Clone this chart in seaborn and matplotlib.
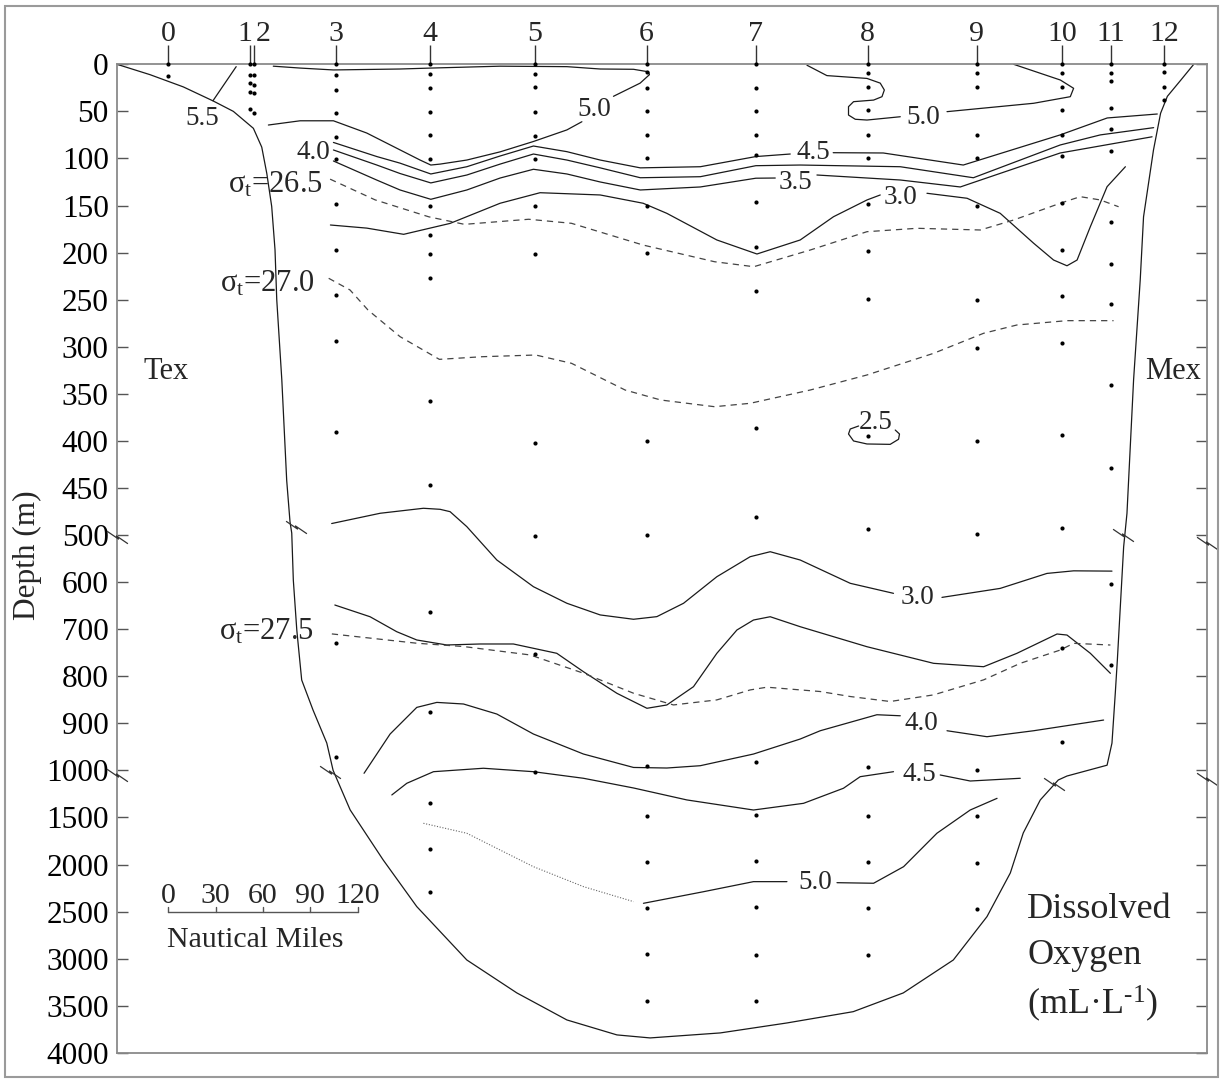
import numpy as np
import pandas as pd
import matplotlib
matplotlib.use("Agg")
import matplotlib.pyplot as plt
import seaborn as sns
from matplotlib.patches import Rectangle

nan = np.nan

# station positions along the section (nautical miles from station 0)
station_ids = ["0", "1", "2", "3", "4", "5", "6", "7", "8", "9", "10", "11", "12"]
station_nm = [0, 52, 54.5, 106, 166, 232, 303, 372, 443, 512, 566, 597, 631]

# sample depths (m) at each station
st0_d = [0, 12]
st1_d = [0, 11, 20, 29, 47]
st2_d = [0, 11, 22, 31, 52]
st3_d = [0, 11, 27, 52, 77, 101, 148, 197, 245, 294, 391, 729, 971]
st4_d = [0, 10, 25, 51, 75, 101, 151, 181, 202, 227, 358, 447, 664, 877, 1344, 1830, 2295]
st5_d = [0, 10, 24, 51, 76, 101, 151, 201, 402, 503, 752, 1015]
st6_d = [0, 8, 25, 50, 75, 100, 150, 200, 400, 500, 990, 1480, 1975, 2465, 2950, 3450]
st7_d = [0, 25, 50, 75, 96, 146, 194, 241, 386, 481, 982, 1475, 1965, 2454, 2963, 3450]
st8_d = [0, 9, 24, 49, 75, 100, 148, 198, 249, 395, 494, 992, 1484, 1971, 2459, 2963]
st9_d = [0, 9, 24, 75, 99, 150, 250, 301, 400, 499, 1000, 1484, 1987, 2476]
st10_d = [0, 9, 24, 49, 75, 97, 147, 197, 246, 296, 394, 493, 741, 939]
st11_d = [0, 9, 18, 46, 69, 92, 168, 212, 255, 341, 429, 604, 776]
st12_d = [0, 8, 24, 38]

# bottom topography
topo_x = [-32.5, -11.6, 9.5, 28.5, 41.2, 53.9, 59.2, 62.4, 65.5, 67.6, 68.7, 71.9, 75.0, 77.1,
          78.2, 79.2, 81.4, 84.5, 91.7, 100.4, 104.4, 115.2, 136.1, 157.4, 189.1, 220.8, 252.5,
          284.2, 305.2, 349.6, 391.9, 433.9, 465.6, 497.3, 518.6, 533.4, 541.6, 552.4, 563.8,
          569.3, 594.7, 597.8, 599.9, 601.2, 605.2, 607.3, 611.5, 615.7, 617.8, 624.1, 628.6,
          632.9, 641.3, 649.6]
topo_d = [0, 11, 24, 39, 50, 68, 88, 116, 151, 197, 250, 335, 442, 486,
          498, 596, 702, 808, 872, 942, 1000, 1420, 1951, 2447, 3014, 3364, 3651,
          3810, 3842, 3789, 3683, 3563, 3364, 3014, 2554, 2090, 1665, 1314, 1102,
          1060, 989, 942, 836, 766, 525, 477, 335, 229, 162, 91, 52,
          34, 17, 0]

# dissolved oxygen isolines (mL/L); nan marks a gap for a label
o55_x = [43.0, 28.3]
o55_d = [2.5, 38.7]

o50_top_x = [66.5, 83.5, 104.6, 146.8, 166.3, 210.2, 252.5, 273.6, 294.7, 304.2, 304.8, 298.9, 282.0,
             nan, 262.0, 252.5, 231.3, 210.2, 189.1, 172.2, 166.3, 159.5, 125.7, 104.6, 83.5, 63.4]
o50_top_d = [2, 4, 6, 5, 4, 2, 2.5, 5, 5.3, 8, 11, 20, 34,
             nan, 61, 69.7, 82, 93, 101.7, 106, 107, 101.7, 73, 60, 60, 64.5]

o50_right_x = [404.6, 417.2, 442.6, 451.0, 453.6, 452.1, 446.8, 434.1, 430.9, 430.9, 435.2, 442.6, 463.7,
               nan, 493.3, 548.2, 571.4, 573.5, 565.1, 535.5]
o50_right_d = [1, 12, 15, 20, 27.3, 34.4, 38, 39.7, 45, 53.9, 58.4, 59.2, 55.7,
               nan, 50.3, 41.4, 34.4, 25.5, 16.7, 0]

o45_x = [104.6, 132.1, 146.8, 166.3, 189.1, 210.2, 231.3, 252.5, 273.6, 299.0, 337.0, 372.2, 394.0,
         nan, 421.2, 452.9, 503.6, 565.0, 594.8, 626.5]
o45_d = [83, 98, 105, 116.5, 108.8, 97.4, 86.8, 92.8, 101.7, 110, 108.8, 98, 95.3,
         nan, 93.9, 94.2, 107, 75, 57, 52.8]

o40_x = [104.6, 132.1, 146.8, 166.3, 189.1, 210.2, 231.3, 252.5, 273.6, 299.0, 337.0, 372.2, 400.3,
         463.7, 510.0, 565.0, 590.4, 624.2]
o40_d = [91, 107, 116, 126, 117.6, 106, 95.3, 101.7, 110, 120.5, 119.4, 107.7, 107,
         108.8, 120.5, 85.7, 75, 67.3]

o35_x = [104.6, 132.1, 146.8, 166.3, 189.1, 210.2, 231.3, 252.5, 273.6, 299.0, 337.0, 372.2, 384.5,
         nan, 410.9, 463.7, 501.7, 565.0, 623.2]
o35_d = [102.7, 123, 133.5, 143.4, 133.5, 120.8, 111.5, 116.5, 125, 133.5, 130.3, 121, 120.8,
         nan, 117.6, 122.9, 130.3, 94.2, 77]

o30_top_x = [102.7, 125.7, 149.1, 178.5, 210.2, 235.5, 273.6, 300.8, 315.8, 347.5, 372.9, 400.3, 421.4,
             442.6, 451.0, nan, 480.6, 506.0, 527.0, 548.2, 560.8, 569.3, 575.7, 584.1, 594.7, 606.3]
o30_top_d = [170.7, 174, 180.6, 169, 147.6, 136.4, 138.8, 147.6, 158.3, 186.6, 201.5, 186.6, 161.9,
             144.1, 138.8, nan, 137, 142.3, 158.3, 190.1, 207.9, 214, 207.9, 172.5, 130, 108.8]

o25_x = [437.3, 432.0, 430.9, 434.1, 442.6, 457.3, 462.6, 463.2, 460.5]
o25_d = [384.2, 387.4, 392.7, 400.1, 403.3, 403.7, 398.3, 392.7, 388.5]

o30_deep_x = [103.5, 134.2, 161.6, 172.2, 178.5, 189.1, 208.1, 231.3, 252.5, 273.6, 294.7, 309.5, 326.4,
              347.5, 368.6, 381.3, 400.3, 432.0, 459.4, nan, 490.1, 527.0, 556.6, 573.5, 597.8]
o30_deep_d = [487.8, 476.9, 471.6, 472.7, 475.2, 491.1, 553, 609.8, 645, 669.8, 679, 673.4, 645,
              588.6, 546.1, 535.5, 553.1, 602.6, 623.9, nan, 632.5, 613.4, 581.6, 576.1, 576.7]

o35_deep_x = [105.5, 127.8, 144.7, 157.4, 176.4, 197.5, 218.6, 246.1, 263.0, 284.2, 303.2, 315.8, 332.7,
              347.5, 360.2, 370.7, 381.3, 400.3, 442.6, 484.8, 516.5, 537.6, 563.0, 569.3, 584.1, 596.8]
o35_deep_d = [648.7, 673.6, 705.4, 723, 733.6, 731.5, 731.5, 751.3, 790.4, 836.3, 868.1, 861.1, 822.2,
              751.3, 701.8, 680.6, 673.6, 694.8, 737.3, 772.6, 779.8, 751.3, 710.3, 712.5, 751.3, 793.8]

o40_deep_x = [124.0, 140.5, 157.4, 170.1, 187.0, 208.1, 231.3, 263.0, 294.7, 315.8, 337.0, 370.7, 400.3,
              413.0, 448.9, 463.7, nan, 493.3, 518.6, 548.2, 592.5]
o40_deep_d = [1031, 922.8, 866.2, 855.6, 859, 880.3, 922.8, 965.3, 993.8, 995, 990.1, 965.3, 933.4,
              915.8, 881.8, 884, nan, 915.8, 928.5, 915.8, 893.1]

o45_deep_x = [141.6, 151.1, 168.0, 199.6, 231.3, 263.0, 294.7, 328.5, 370.7, 402.4, 427.7, 438.3, 459.4,
              nan, 489.0, 508.0, 539.7]
o45_deep_d = [1261, 1137, 1014, 995.5, 1014, 1084, 1187, 1314, 1421, 1350, 1190, 1067, 1014,
              nan, 1049, 1113, 1084]

o50_deep_x = [301.0, 339.0, 370.7, 391.9, nan, 423.6, 446.8, 465.8, 486.9, 508.0, 525.0]
o50_deep_d = [2412, 2289, 2182, 2182, nan, 2193, 2199, 2023, 1668, 1421, 1297]

o50_dot_x = [161.6, 189.1, 210.2, 231.3, 263.0, 294.7]
o50_dot_d = [1562, 1668, 1846, 2023, 2235, 2394]

# sigma-t isopycnals
sig265_x = [102.5, 131.0, 165.0, 187.6, 228.3, 255.4, 300.8, 346.0, 370.9, 406.6, 442.6, 474.3, 514.4,
            535.5, 565.0, 577.7, 590.4, 602.0]
sig265_d = [122, 144, 162, 170, 164.6, 168.9, 192, 209.7, 215, 197.3, 177.8, 174.2, 176,
            165.4, 147.6, 140.6, 144.1, 151.3]

sig270_x = [101.6, 115.1, 126.5, 146.8, 171.7, 198.9, 232.8, 255.4, 289.4, 312.0, 346.0, 368.6, 406.6,
            442.6, 484.8, 516.5, 537.6, 569.3, 598.8]
sig270_d = [227.3, 239.7, 261, 289.3, 313.4, 310.6, 308.8, 317.6, 346, 356.6, 363.7, 360.1, 346,
            330, 307, 285.7, 276.9, 272.3, 272.3]

sig275_x = [103.6, 157.4, 187.0, 229.2, 263.0, 294.7, 320.0, 347.5, 368.6, 379.2, 413.0, 432.0, 457.3,
            484.8, 516.5, 539.7, 565.0, 573.5, 596.8]
sig275_d = [710.1, 729.9, 736.9, 754.8, 793.6, 836.1, 861, 850.3, 829.1, 823.3, 832.5, 843.1, 853.7,
            839.6, 807.7, 772.6, 744.4, 730.1, 733.7]

# contour labels
lab_text = ["5.5", "4.0", "5.0", "5.0", "4.5", "3.5", "3.0", "2.5", "3.0", "4.0", "4.5", "5.0"]
lab_x = [21.4, 91.7, 269.8, 478.3, 408.5, 397.2, 463.7, 448.4, 474.4, 477.0, 475.7, 409.7]
lab_d = [57.6, 94, 48.5, 57, 94, 126, 141, 380, 632.4, 900.8, 1047, 2195]

sig_text = ["26.5", "27.0", "27.5"]
sig_x = [98.0, 93.0, 91.9]
sig_d = [136, 241.5, 723]

depth_ticks = [0, 50, 100, 150, 200, 250, 300, 350, 400, 450, 500,
               600, 700, 800, 900, 1000, 1500, 2000, 2500, 3000, 3500, 4000]
scale_ticks = [0, 30, 60, 90, 120]

# axis-break marks (spines and bottom line)
brk_x = [-32.5, -32.5, 658, 658, 81, 102.5, 605, 561]
brk_d = [505, 1045, 517, 1091, 492, 1017, 500, 1144]


def depth_fwd(d):
    d = np.asarray(d, dtype=float)
    return np.where(d <= 500, d / 50, np.where(d <= 1000, 10 + (d - 500) / 100, 15 + (d - 1000) / 500))


def depth_inv(u):
    u = np.asarray(u, dtype=float)
    return np.where(u <= 10, u * 50, np.where(u <= 15, 500 + (u - 10) * 100, 1000 + (u - 15) * 500))


def to_rows(name, xs, ds, style):
    rows, seg = [], 0
    for x, d in zip(xs, ds):
        if np.isnan(x):
            seg += 1
            continue
        rows.append((f"{name}-{seg}", x, d, style))
    return rows


rows = []
rows += to_rows("topo", topo_x, topo_d, "solid")
rows += to_rows("o55", o55_x, o55_d, "solid")
rows += to_rows("o50t", o50_top_x, o50_top_d, "solid")
rows += to_rows("o50r", o50_right_x, o50_right_d, "solid")
rows += to_rows("o45", o45_x, o45_d, "solid")
rows += to_rows("o40", o40_x, o40_d, "solid")
rows += to_rows("o35", o35_x, o35_d, "solid")
rows += to_rows("o30t", o30_top_x, o30_top_d, "solid")
rows += to_rows("o25", o25_x, o25_d, "solid")
rows += to_rows("o30d", o30_deep_x, o30_deep_d, "solid")
rows += to_rows("o35d", o35_deep_x, o35_deep_d, "solid")
rows += to_rows("o40d", o40_deep_x, o40_deep_d, "solid")
rows += to_rows("o45d", o45_deep_x, o45_deep_d, "solid")
rows += to_rows("o50d", o50_deep_x, o50_deep_d, "solid")
rows += to_rows("o50dot", o50_dot_x, o50_dot_d, "dotted")
rows += to_rows("s265", sig265_x, sig265_d, "dashed")
rows += to_rows("s270", sig270_x, sig270_d, "dashed")
rows += to_rows("s275", sig275_x, sig275_d, "dashed")
lines = pd.DataFrame(rows, columns=["seg", "nm", "depth", "style"])

all_st = [st0_d, st1_d, st2_d, st3_d, st4_d, st5_d, st6_d, st7_d, st8_d, st9_d, st10_d, st11_d, st12_d]
samples = pd.DataFrame(
    [(station_nm[i], d) for i, ds in enumerate(all_st) for d in ds], columns=["nm", "depth"]
)

sns.set_theme(style="white")
plt.rcParams["font.family"] = ["Liberation Serif", "DejaVu Serif"]
plt.rcParams["mathtext.fontset"] = "custom"
plt.rcParams["mathtext.rm"] = "Liberation Serif"
plt.rcParams["mathtext.it"] = "Liberation Serif:italic"

fig = plt.figure(figsize=(12.25, 10.8), dpi=100)
ax = fig.add_axes([117 / 1225, 1 - 1052.8 / 1080, 1090 / 1225, 988.5 / 1080])
ax.set_yscale("function", functions=(depth_fwd, depth_inv))
ax.set_xlim(-32.5, 658)
ax.set_ylim(4000, 0)

styles = {
    "solid": dict(color="#1a1a1a", lw=0.9, linestyle="-"),
    "dashed": dict(color="#444444", lw=0.9, linestyle=(0, (5, 4))),
    "dotted": dict(color="#666666", lw=0.8, linestyle=(0, (1, 1.5))),
}
for s, kw in styles.items():
    sns.lineplot(data=lines[lines["style"] == s], x="nm", y="depth", units="seg",
                 estimator=None, sort=False, legend=False, ax=ax, **kw)

sns.scatterplot(data=samples, x="nm", y="depth", s=9, color="black", linewidth=0,
                legend=False, ax=ax, zorder=3, clip_on=False)

# break marks
zig = [(-1, 0.6), (0.1, -0.15), (-0.1, 0.15), (1, -0.6)]
ax.plot(brk_x, brk_d, ls="none", marker=zig, ms=15, mfc="none", mec="#333333", mew=0.9,
        clip_on=False, zorder=4)

# axes styling
for sp in ax.spines.values():
    sp.set_color("#8a8a8a")
    sp.set_linewidth(1.3)
ax.set_yticks(depth_ticks)
ax.set_yticklabels([str(t) for t in depth_ticks])
ax.yaxis.set_minor_locator(matplotlib.ticker.NullLocator())
ax.tick_params(axis="y", which="major", left=True, right=True, direction="in", length=8,
               width=1.0, color="#555555", labelsize=22.5, pad=6, labelcolor="black")
ax.set_xticks(station_nm)
ax.tick_params(axis="x", which="major", bottom=False, top=True, labelbottom=False, labeltop=False,
               direction="out", length=14, width=1.0, color="#333333")
ax.set_xlabel("")
ax.set_ylabel("")

# station numbers
label_dx = [0, -3.8, 6.5, 0, 0, 0, 0, 0, 0, 0, 0, 0, 0]
for sid, x, dx in zip(station_ids, station_nm, label_dx):
    ax.annotate(sid, xy=(x, 1), xycoords=("data", "axes fraction"), xytext=(dx, 16.5),
                textcoords="offset points", ha="center", va="baseline", fontsize=21.5)

# contour labels
for t, x, d in zip(lab_text, lab_x, lab_d):
    ax.text(x, d, t, ha="center", va="center", fontsize=19.5, zorder=5)
for t, x, d in zip(sig_text, sig_x, sig_d):
    ax.text(x, d, "σ$_\\mathrm{t}$=" + t, ha="right", va="baseline", fontsize=22, zorder=5)

ax.text(-1.4, 326.6, "Tex", ha="center", va="center", fontsize=22)
ax.text(636.7, 326.6, "Mex", ha="center", va="center", fontsize=22)

for txt, yy in zip(["Dissolved", "Oxygen", "(mL·L$^{\\mathrm{\u2010}1}$)"], [0.1445, 0.0982, 0.0496]):
    ax.text(0.835, yy, txt, transform=ax.transAxes, ha="left", va="center", fontsize=26)

# scale bar
ax.plot([scale_ticks[0], scale_ticks[-1]], [2501, 2501], color="#555555", lw=1.0)
for t in scale_ticks:
    ax.plot([t, t], [2501, 2448], color="#555555", lw=1.0)
    ax.text(t, 2405, str(t), ha="center", va="baseline", fontsize=21.5)
ax.text(-1.0, 2873, "Nautical Miles", ha="left", va="baseline", fontsize=21.5)

fig.text(27 / 1225, 1 - 555 / 1080, "Depth (m)", rotation=90, ha="center", va="center", fontsize=22.5)
fig.add_artist(Rectangle((5 / 1225, 3 / 1080), 1213 / 1225, 1071 / 1080, transform=fig.transFigure,
                         fill=False, ec="#9a9a9a", lw=1.5))

fig.savefig("out.png", dpi=100)
